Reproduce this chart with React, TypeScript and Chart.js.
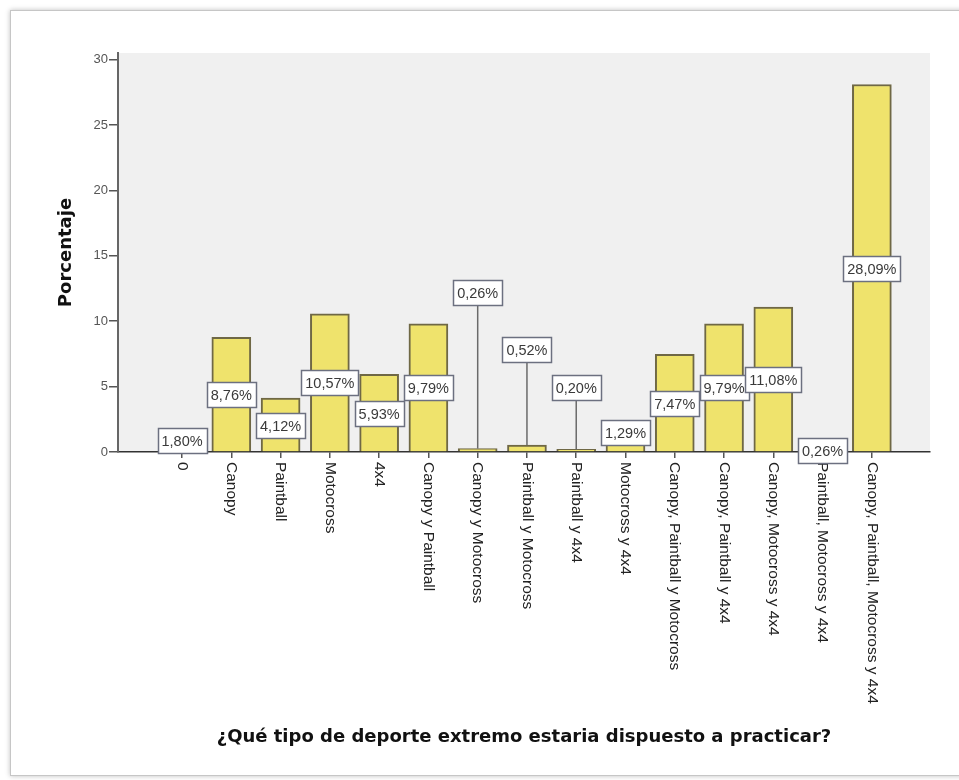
import React, { useEffect, useRef } from "react";
import { Chart, registerables } from "chart.js";

Chart.register(...registerables);

const categories: string[] = [
  "0",
  "Canopy",
  "Paintball",
  "Motocross",
  "4x4",
  "Canopy y Paintball",
  "Canopy y Motocross",
  "Paintball y Motocross",
  "Paintball y 4x4",
  "Motocross y 4x4",
  "Canopy, Paintball y Motocross",
  "Canopy, Paintball y 4x4",
  "Canopy, Motocross y 4x4",
  "Paintball, Motocross y 4x4",
  "Canopy, Paintball, Motocross y 4x4",
];

const percentages: number[] = [
  1.8, 8.76, 4.12, 10.57, 5.93, 9.79, 0.26, 0.52, 0.2, 1.29, 7.47, 9.79, 11.08, 0.26, 28.09,
];

const yTickValues: number[] = [0, 5, 10, 15, 20, 25, 30];

const yTitle = "Porcentaje";
const xTitle = "¿Qué tipo de deporte extremo estaria dispuesto a practicar?";

const fmt = (v: number) => v.toFixed(2).replace(".", ",") + "%";

const plotBgPlugin = {
  id: "plotBg",
  beforeDraw(chart: any) {
    const { ctx, chartArea } = chart;
    ctx.save();
    ctx.fillStyle = "#f0f0f0";
    ctx.fillRect(chartArea.left, chartArea.top, chartArea.right - chartArea.left, chartArea.bottom - chartArea.top);
    ctx.restore();
  },
};

const xLabelPlugin = {
  id: "xLabels",
  afterDraw(chart: any) {
    const { ctx } = chart;
    const xs = chart.scales.x;
    const base = chart.chartArea.bottom + 10;
    ctx.save();
    ctx.font = "15.5px 'Liberation Sans', Arial, sans-serif";
    ctx.fillStyle = "#222222";
    ctx.textAlign = "left";
    ctx.textBaseline = "middle";
    categories.forEach((c, i) => {
      const px = xs.getPixelForValue(i);
      ctx.save();
      ctx.translate(px, base);
      ctx.rotate(Math.PI / 2);
      ctx.fillText(c, 0, 0);
      ctx.restore();
    });
    ctx.restore();
  },
};

const valueBoxPlugin = {
  id: "valueBoxes",
  afterDraw(chart: any, _args: any, opts: any) {
    const { ctx } = chart;
    const xs = chart.scales.x;
    const ys = chart.scales.y;
    const anchors: Record<number, number> = opts.anchors || {};
    const leaders: number[] = opts.leaders || [];
    ctx.save();
    ctx.font = "14.5px 'Liberation Sans', Arial, sans-serif";
    percentages.forEach((v, i) => {
      const text = fmt(v);
      const cx = xs.getPixelForValue(i);
      const a = anchors[i] !== undefined ? anchors[i] : v / 2;
      const cy = ys.getPixelForValue(a);
      const w = Math.round(ctx.measureText(text).width + 8);
      const h = 25;
      if (leaders.includes(i)) {
        ctx.strokeStyle = "#6a6a6a";
        ctx.lineWidth = 1.5;
        ctx.beginPath();
        ctx.moveTo(cx, cy + h / 2);
        ctx.lineTo(cx, ys.getPixelForValue(v));
        ctx.stroke();
      }
      const left = Math.round(cx - w / 2) + 0.5;
      const top = Math.round(cy - h / 2) + 0.5;
      ctx.fillStyle = "#ffffff";
      ctx.fillRect(left, top, w, h);
      ctx.strokeStyle = "#6c7080";
      ctx.lineWidth = 1.5;
      ctx.strokeRect(left, top, w, h);
      ctx.fillStyle = "#3a3a3a";
      ctx.textAlign = "center";
      ctx.textBaseline = "middle";
      ctx.fillText(text, cx, top + h / 2 + 1);
    });
    ctx.restore();
  },
};

export default function App() {
  const canvasRef = useRef<HTMLCanvasElement | null>(null);

  useEffect(() => {
    if (!canvasRef.current) return;
    const chart = new Chart(canvasRef.current, {
      type: "bar",
      data: {
        datasets: [
          {
            label: yTitle,
            data: percentages.map((v, i) => ({ x: i, y: v })),
            backgroundColor: "#efe36c",
            borderColor: "#6f6845",
            borderWidth: 2,
            borderSkipped: "start",
            barThickness: 39,
          },
        ],
      },
      options: {
        animation: false,
        responsive: false,
        maintainAspectRatio: false,
        layout: { padding: { left: 56, top: 53, right: 29, bottom: 32 } },
        plugins: {
          legend: { display: false },
          tooltip: { enabled: false },
          valueBoxes: { anchors: { 6: 12.2, 7: 7.8, 8: 4.9, 9: 1.5 }, leaders: [6, 7, 8] },
        } as any,
        scales: {
          x: {
            type: "linear",
            min: -1.3,
            max: 15.18,
            offset: false,
            afterBuildTicks: (s: any) => {
              s.ticks = categories.map((_, i) => ({ value: i }));
            },
            afterFit: (s: any) => {
              s.height = 296;
            },
            ticks: { display: false },
            grid: {
              display: true,
              offset: false,
              drawOnChartArea: false,
              drawTicks: true,
              tickLength: 6,
              color: "#555555",
              lineWidth: 1.5,
            },
            border: { display: true, color: "#333333", width: 1.5 },
            title: {
              display: true,
              text: xTitle,
              font: { family: "'DejaVu Sans', Verdana, sans-serif", size: 18, weight: "bold" },
              color: "#111111",
              padding: 0,
            },
          },
          y: {
            type: "linear",
            min: 0,
            max: 30.5,
            afterBuildTicks: (s: any) => {
              s.ticks = yTickValues.map((v) => ({ value: v }));
            },
            afterFit: (s: any) => {
              s.width = 62;
            },
            ticks: {
              color: "#555555",
              font: { family: "'Liberation Sans', Arial, sans-serif", size: 13 },
              padding: 1,
            },
            grid: {
              display: true,
              offset: false,
              drawOnChartArea: false,
              drawTicks: true,
              tickLength: 9,
              color: "#555555",
              lineWidth: 1.5,
            },
            border: { display: true, color: "#666666", width: 2 },
            title: {
              display: true,
              text: yTitle,
              font: { family: "'DejaVu Sans', Verdana, sans-serif", size: 18, weight: "bold" },
              color: "#111111",
              padding: 0,
            },
          },
        },
      },
      plugins: [plotBgPlugin, xLabelPlugin, valueBoxPlugin],
    } as any);
    return () => chart.destroy();
  }, []);

  return (
    <div
      style={{
        position: "fixed",
        left: 0,
        top: 0,
        width: 959,
        height: 780,
        overflow: "hidden",
        background: "#ffffff",
      }}
    >
      <div
        style={{
          position: "absolute",
          left: 10,
          top: 10,
          width: 1000,
          height: 764,
          border: "1px solid #c6c6c6",
          boxShadow: "0 0 5px rgba(0,0,0,0.25)",
          background: "#ffffff",
        }}
      />
      <canvas
        ref={canvasRef}
        width={959}
        height={780}
        style={{ position: "absolute", left: 0, top: 0, display: "block" }}
      />
    </div>
  );
}
